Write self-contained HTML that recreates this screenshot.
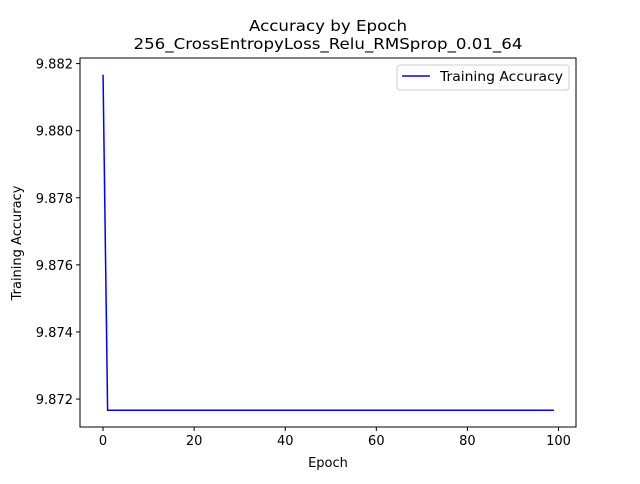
<!DOCTYPE html>
<html><head><meta charset="utf-8"><style>
body{margin:0;background:#fff;font-family:"DejaVu Sans","Liberation Sans",sans-serif;}
</style></head><body>
<svg id="chart" width="640" height="480" xmlns="http://www.w3.org/2000/svg" font-family="DejaVu Sans, Liberation Sans, sans-serif">
<rect width="640" height="480" fill="#fff"/>
<text x="328" y="31" text-anchor="middle" font-size="15.5" textLength="158" lengthAdjust="spacingAndGlyphs">Accuracy by Epoch</text>
<text x="328" y="49" text-anchor="middle" font-size="15.5" textLength="389" lengthAdjust="spacingAndGlyphs">256_CrossEntropyLoss_Relu_RMSprop_0.01_64</text>
<g id="xticks"></g><g id="yticks"></g>
<polyline id="line" fill="none" stroke="#0000ff" stroke-width="1.5"/>
<rect x="80" y="58" width="496" height="369" fill="none" stroke="#000" stroke-width="1"/>
<text x="328" y="467" text-anchor="middle" font-size="13">Epoch</text>
<text transform="translate(21,243) rotate(-90)" text-anchor="middle" font-size="13">Training Accuracy</text>
<g>
<rect x="397" y="65" width="172" height="25" rx="3" fill="#fff" stroke="#ccc"/>
<line x1="402" y1="76" x2="430" y2="76" stroke="#0000ff" stroke-width="1.5"/>
<text x="440" y="81" font-size="13" textLength="123" lengthAdjust="spacingAndGlyphs">Training Accuracy</text>
</g>
</svg>
<script>
const epochs = Array.from({length:100},(_, i)=>i);
const accuracy = [9.881667].concat(Array(99).fill(9.871667));
const xTickValues = [0,20,40,60,80,100];
const yTickValues = [9.872,9.874,9.876,9.878,9.880,9.882];
const yTickLabels = ["9.872","9.874","9.876","9.878","9.880","9.882"];
const X0=80,X1=576,Y0=427,Y1=58;
const xMin=-4.95,xMax=103.95,yMin=9.871167,yMax=9.882167;
function sx(v){return X0+(v-xMin)/(xMax-xMin)*(X1-X0);}
function sy(v){return Y0-(v-yMin)/(yMax-yMin)*(Y0-Y1);}
const ns="http://www.w3.org/2000/svg";
const xg=document.getElementById('xticks'), yg=document.getElementById('yticks');
xTickValues.forEach(v=>{
  const x=sx(v)+0.5;
  const l=document.createElementNS(ns,'line');
  l.setAttribute('x1',x);l.setAttribute('x2',x);l.setAttribute('y1',Y0);l.setAttribute('y2',Y0+4);l.setAttribute('stroke','#000');
  
  
  xg.appendChild(l);
  const t=document.createElementNS(ns,'text');
  t.setAttribute('x',x);t.setAttribute('y',Y0+18);t.setAttribute('text-anchor','middle');t.setAttribute('font-size','13');t.textContent=v;
  
  
  xg.appendChild(t);
});
yTickValues.forEach((v,i)=>{
  const y=sy(v);
  const l=document.createElementNS(ns,'line');
  l.setAttribute('x1',X0-4);l.setAttribute('x2',X0);l.setAttribute('y1',y);l.setAttribute('y2',y);l.setAttribute('stroke','#000');
  
  
  yg.appendChild(l);
  const t=document.createElementNS(ns,'text');
  t.setAttribute('x',X0-7);t.setAttribute('y',y+5);t.setAttribute('text-anchor','end');t.setAttribute('font-size','13');t.textContent=yTickLabels[i];
  
  
  yg.appendChild(t);
});
document.getElementById('line').setAttribute('points',epochs.map((e,i)=>(sx(e)+0.5)+','+sy(accuracy[i])).join(' '));
</script>
</body></html>
